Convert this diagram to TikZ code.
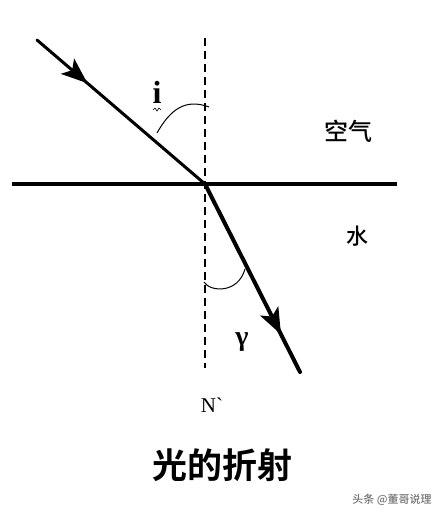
\documentclass[tikz,border=0pt]{standalone}
\usepackage{fontspec}
\setmainfont{Liberation Serif}
\newfontfamily\cjk{Noto Sans CJK SC Medium}
\newfontfamily\cjkb{Noto Sans CJK SC Bold}
\usetikzlibrary{decorations.markings,arrows.meta}
\begin{document}
\begin{tikzpicture}[x=1pt,y=-1pt,
  ray/.style={line width=3pt,line cap=round},
  normal/.style={line width=1.4pt,dash pattern=on 8pt off 5pt},
  arcline/.style={line width=1pt},
  arrowmark/.style={postaction={decorate,decoration={markings,
    mark=at position #1 with {\arrow{Stealth[length=26pt,width=20pt,inset=6pt]}}}}}
]
\useasboundingbox (0,0) rectangle (440,520);
\coordinate (O) at (205,184);
\coordinate (A) at (37,40);
\coordinate (B) at (300,372);
\coordinate (Ntop) at (205,38);
\coordinate (Nbot) at (205,368);
\coordinate (Sl) at (12,184);
\coordinate (Sr) at (397,184);
% normal
\draw[normal] (Ntop) -- (Nbot);
% surface
\draw[line width=4.5pt] (Sl) -- (Sr);
% incident ray
\draw[ray,arrowmark=0.30] (A) -- (O);
% refracted ray
\draw[ray,line width=4pt,arrowmark=0.80] (O) -- (B);
% angle arcs
\draw[arcline] (157,133) .. controls (170,110) and (185,98) .. (209,107);
\draw[arcline] (204,282) .. controls (210,292) and (238,294) .. (245,269);
% labels
\node (i) at (157,92) {\fontsize{32}{32}\selectfont\bfseries i};
\draw[line width=0.6pt] (153,110) -- (155,108) -- (157,111) -- (159,108) -- (161,110);
\node (r) at (242,342) {\fontsize{28}{28}\selectfont\bfseries γ};
\node (N) at (212,405) {\fontsize{21}{21}\selectfont N\textasciigrave};
\node (air) at (348,131) {\cjk\fontsize{24}{24}\selectfont 空气};
\node (water) at (357,236) {\cjk\fontsize{22}{22}\selectfont 水};
\node (title) at (222,465) {\cjkb\fontsize{35}{35}\selectfont 光的折射};
\node[text=black!55] (wm) at (392,500) {\cjk\fontsize{11}{11}\selectfont 头条 @董哥说理};
\end{tikzpicture}
\end{document}
